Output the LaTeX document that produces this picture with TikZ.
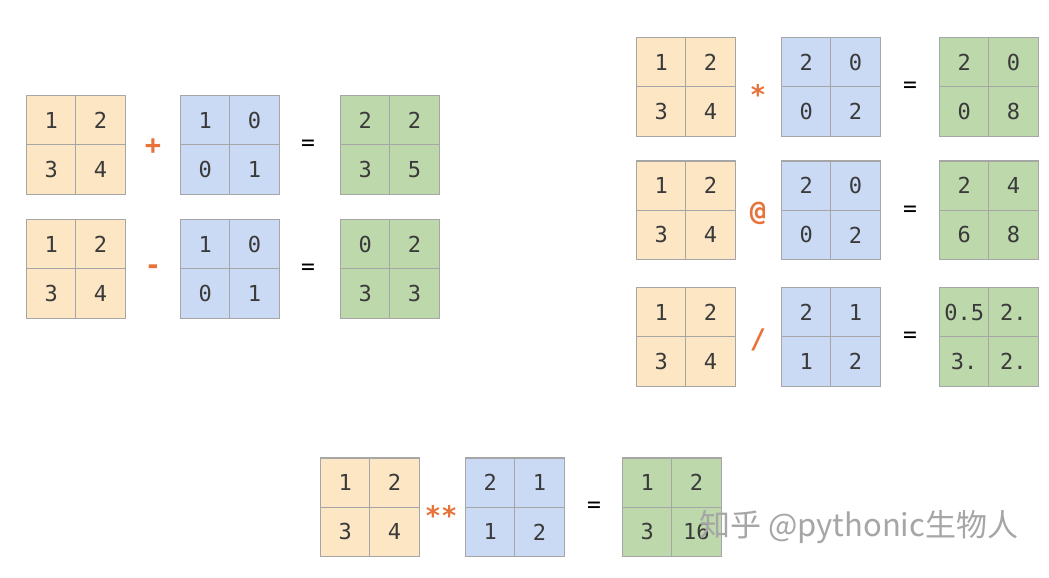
\documentclass[tikz,border=0pt]{standalone}
\usepackage{fontspec}
\newfontfamily\monofont{DejaVu Sans Mono}
\newfontfamily\cjk{Noto Sans CJK SC}
\definecolor{ycell}{HTML}{FCE6C4}
\definecolor{bcell}{HTML}{CBDAF4}
\definecolor{gcell}{HTML}{BDD8AB}
\definecolor{gridc}{HTML}{A6A6A6}
\definecolor{opc}{HTML}{E8733A}
\definecolor{txtc}{HTML}{3A3A3A}
\tikzset{
  cell/.style={draw=gridc, line width=1.2pt, minimum size=49.3pt, inner sep=0pt, outer sep=0pt,
     font=\monofont\fontsize{22}{22}\selectfont, text=txtc, anchor=north west},
  opsym/.style={font=\monofont\bfseries\fontsize{27}{27}\selectfont, text=opc, inner sep=0pt},
  eqsym/.style={font=\monofont\fontsize{23}{23}\selectfont, text=black, inner sep=0pt},
}
% \mtx{name}{x}{y}{fill}{a}{b}{c}{d}
\newcommand\mtx[8]{%
  \node[cell, fill=#4] (#1-11) at (#2,#3) {#5};
  \node[cell, fill=#4] (#1-12) at (#2+49.3,#3) {#6};
  \node[cell, fill=#4] (#1-21) at (#2,#3+49.3) {#7};
  \node[cell, fill=#4] (#1-22) at (#2+49.3,#3+49.3) {#8};
}
\begin{document}
\begin{tikzpicture}[x=1pt,y=-1pt]
\useasboundingbox[fill=white] (0,0) rectangle (1049,578);
% --- top-left: + and -
\mtx{a1}{26.5}{95.5}{ycell}{1}{2}{3}{4}
\node[opsym] (o1) at (153,147) {+};
\mtx{b1}{180.5}{95.5}{bcell}{1}{0}{0}{1}
\node[eqsym] (e1) at (308,145) {=};
\mtx{c1}{340.5}{95.5}{gcell}{2}{2}{3}{5}

\mtx{a2}{26.5}{219.5}{ycell}{1}{2}{3}{4}
\node[opsym] (o2) at (153,270) {-};
\mtx{b2}{180.5}{219.5}{bcell}{1}{0}{0}{1}
\node[eqsym] (e2) at (308,269) {=};
\mtx{c2}{340.5}{219.5}{gcell}{0}{2}{3}{3}

% --- top-right: *, @, /
\mtx{a3}{636.5}{37.5}{ycell}{1}{2}{3}{4}
\node[opsym] (o3) at (758,94) {*};
\mtx{b3}{781.5}{37.5}{bcell}{2}{0}{0}{2}
\node[eqsym] (e3) at (910,87) {=};
\mtx{c3}{939.5}{37.5}{gcell}{2}{0}{0}{8}

\mtx{a4}{636.5}{161}{ycell}{1}{2}{3}{4}
\node[opsym] (o4) at (758,213) {@};
\mtx{b4}{781.5}{161}{bcell}{2}{0}{0}{2}
\node[eqsym] (e4) at (910,211) {=};
\mtx{c4}{939.5}{161}{gcell}{2}{4}{6}{8}

\mtx{a5}{636.5}{287.5}{ycell}{1}{2}{3}{4}
\node[opsym] (o5) at (758,340) {/};
\mtx{b5}{781.5}{287.5}{bcell}{2}{1}{1}{2}
\node[eqsym] (e5) at (910,337) {=};
\mtx{c5}{939.5}{287.5}{gcell}{0.5}{2.}{3.}{2.}

% --- bottom: **
\mtx{a6}{320.5}{458}{ycell}{1}{2}{3}{4}
\node[opsym] (o6) at (441,515) {**};
\mtx{b6}{465.5}{458}{bcell}{2}{1}{1}{2}
\node[eqsym] (e6) at (594,507) {=};
\mtx{c6}{622.5}{458}{gcell}{1}{2}{3}{16}

% --- watermark
\node[font=\cjk\fontsize{31}{31}\selectfont, text=black!35, anchor=west, inner sep=0pt] (wm) at (699,527) {知乎 @pythonic生物人};
\end{tikzpicture}
\end{document}
